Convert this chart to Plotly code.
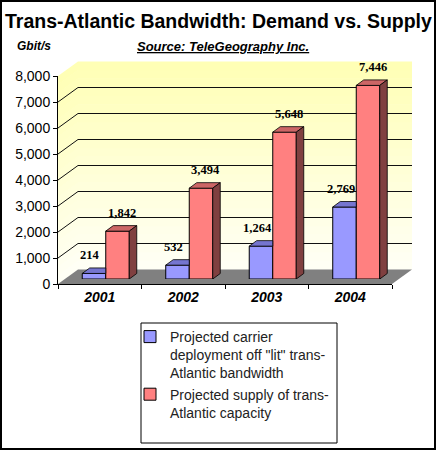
import plotly.graph_objects as go

# values (Gbit/s)
years = ['2001', '2002', '2003', '2004']
demand = [214, 532, 1264, 2769]
supply = [1842, 3494, 5648, 7446]
y_ticks = [0, 1000, 2000, 3000, 4000, 5000, 6000, 7000, 8000]
y_max = 8000

demand_name = 'Projected carrier<br>deployment off "lit" trans-<br>Atlantic bandwidth'
supply_name = 'Projected supply of trans-<br>Atlantic capacity'

W, H = 436, 450
SANS = 'Liberation Sans, Arial, sans-serif'
SERIF = 'Liberation Serif, Times New Roman, serif'

# pseudo 3d box, in pixels
FX0, FX1, FY0, FY1 = 58, 392, 284, 76     # front plane (axes)
WALL_DX, WALL_DY = 20, 14.5               # back wall offset
BAR_DX, BAR_DY = 6, 5                     # bars sit this far into the box
DEPTH_X, DEPTH_Y = 7.5, 5.5               # depth of a bar


def px(x):
    return x / W


def py(y):
    return 1 - y / H


def y_front(v):
    return FY0 - v / y_max * (FY0 - FY1)


def y_back(v):
    return y_front(v) - WALL_DY


slot = (FX1 - FX0) / len(years)
dx = DEPTH_X / slot
dy = DEPTH_Y / ((FY0 - FY1) / y_max)
bar_w = 0.2815
pos = list(range(len(years)))

fig = go.Figure()

# invisible helper so the front category axis knows its categories
fig.add_trace(go.Scatter(x=years, y=demand, mode='markers', marker=dict(opacity=0),
                         showlegend=False, hoverinfo='skip', xaxis='x', yaxis='y'))
fig.add_trace(go.Bar(x=pos, y=demand, name=demand_name, width=bar_w, offset=-bar_w,
                     marker=dict(color='#9999FF', line=dict(color='black', width=1)),
                     xaxis='x2', yaxis='y2'))
fig.add_trace(go.Bar(x=pos, y=supply, name=supply_name, width=bar_w, offset=0,
                     marker=dict(color='#FF8080', line=dict(color='black', width=1)),
                     xaxis='x2', yaxis='y2'))

shapes = []

# walls with a yellow-to-white gradient
n_bands = 24
for i in range(n_bands):
    v0 = i * y_max / n_bands
    v1 = (i + 1) * y_max / n_bands
    t = (v0 + v1) / 2 / y_max
    col = 'rgb(255,255,%d)' % round(246 - t * (246 - 180))
    top = min(v1 + 20, y_max)
    shapes.append(dict(type='rect', xref='paper', yref='paper', layer='below',
                       x0=px(FX0 + WALL_DX), x1=px(FX1 + WALL_DX),
                       y0=py(y_back(v0)), y1=py(y_back(top)),
                       fillcolor=col, line=dict(width=0)))
    shapes.append(dict(type='path', xref='paper', yref='paper', layer='below',
                       path='M%f,%f L%f,%f L%f,%f L%f,%f Z' % (
                           px(FX0), py(y_front(v0)), px(FX0), py(y_front(top)),
                           px(FX0 + WALL_DX), py(y_back(top)), px(FX0 + WALL_DX), py(y_back(v0))),
                       fillcolor=col, line=dict(width=0)))

# gridlines on the back and side wall
for v in y_ticks[1:-1]:
    shapes.append(dict(type='line', xref='paper', yref='paper', layer='below',
                       x0=px(FX0 + WALL_DX), x1=px(FX1 + WALL_DX), y0=py(y_back(v)), y1=py(y_back(v)),
                       line=dict(color='#111111', width=1)))
    shapes.append(dict(type='line', xref='paper', yref='paper', layer='below',
                       x0=px(FX0), x1=px(FX0 + WALL_DX), y0=py(y_front(v)), y1=py(y_back(v)),
                       line=dict(color='#111111', width=1)))

# floor
shapes.append(dict(type='path', xref='paper', yref='paper', layer='below',
                   path='M%f,%f L%f,%f L%f,%f L%f,%f Z' % (
                       px(FX0), py(FY0), px(FX1), py(FY0),
                       px(FX1 + WALL_DX), py(FY0 - WALL_DY), px(FX0 + WALL_DX), py(FY0 - WALL_DY)),
                   fillcolor='#808080', line=dict(width=0)))

# bar tops and sides
edge = dict(color='black', width=0.8)
for x, v in zip(pos, demand):
    xl, xr = x - bar_w, x
    shapes.append(dict(type='path', xref='x2', yref='y2', layer='above', line=edge,
                       fillcolor='#7575D0',
                       path='M%f,%f L%f,%f L%f,%f L%f,%f Z' % (
                           xl, v, xr, v, xr, v + dy, xl + dx, v + dy)))
for x, v in zip(pos, supply):
    xl, xr = x, x + bar_w
    shapes.append(dict(type='path', xref='x2', yref='y2', layer='above', line=edge,
                       fillcolor='#CC6666',
                       path='M%f,%f L%f,%f L%f,%f L%f,%f Z' % (
                           xl, v, xr, v, xr + dx, v + dy, xl + dx, v + dy)))
    shapes.append(dict(type='path', xref='x2', yref='y2', layer='above', line=edge,
                       fillcolor='#804040',
                       path='M%f,%f L%f,%f L%f,%f L%f,%f Z' % (
                           xr, 0, xr, v, xr + dx, v + dy, xr + dx, dy)))

# legend box and outer frame
shapes.append(dict(type='rect', xref='paper', yref='paper', layer='above',
                   x0=px(141), x1=px(337), y0=py(443), y1=py(323),
                   fillcolor='white', line=dict(color='black', width=1)))
shapes.append(dict(type='rect', xref='paper', yref='paper', layer='above',
                   x0=px(1), x1=px(W - 1), y0=py(H - 1), y1=py(1),
                   line=dict(color='black', width=2)))

annotations = [
    dict(text='<b>Trans-Atlantic Bandwidth: Demand vs. Supply</b>', x=px(218), y=py(21),
         font=dict(family=SANS, size=19.5, color='black')),
    dict(text='<b><i>Gbit/s</i></b>', x=px(15), y=py(46), xanchor='left',
         font=dict(family=SANS, size=12, color='black')),
    dict(text='<b><i><u>Source: TeleGeography Inc.</u></i></b>', x=px(223), y=py(46),
         font=dict(family=SANS, size=13, color='black')),
]
for a in annotations:
    a.update(xref='paper', yref='paper', showarrow=False)
    a.setdefault('xanchor', 'center')
    a['yanchor'] = 'middle'

# value labels above the bars
label_font = dict(family=SERIF, size=12.5, color='black', weight='bold')
for x, v in zip(pos, demand):
    annotations.append(dict(text=f'{v:,}', x=x - bar_w / 2, y=v + dy, xref='x2', yref='y2',
                            xshift=-4, yshift=4, yanchor='bottom', showarrow=False, font=label_font))
for x, v in zip(pos, supply):
    annotations.append(dict(text=f'{v:,}', x=x + bar_w / 2 + dx / 2, y=v + dy, xref='x2', yref='y2',
                            xshift=1, yshift=4, yanchor='bottom', showarrow=False, font=label_font))

fig.update_layout(
    width=W, height=H,
    margin=dict(l=0, r=0, t=0, b=0, autoexpand=False),
    paper_bgcolor='white', plot_bgcolor='rgba(0,0,0,0)',
    barmode='overlay', hovermode=False,
    shapes=shapes, annotations=annotations,
    xaxis=dict(type='category', domain=[px(FX0), px(FX1)], range=[-0.5, len(years) - 0.5],
               anchor='y', tickson='boundaries', ticks='outside', ticklen=4, tickcolor='black',
               showline=True, linecolor='black', linewidth=1, showgrid=False, zeroline=False,
               tickfont=dict(family=SANS, size=14, color='black', weight='bold', style='italic')),
    yaxis=dict(domain=[py(FY0), py(FY1)], range=[0, y_max], anchor='x',
               tickvals=y_ticks, tickformat=',', ticks='outside', ticklen=4, tickcolor='black',
               showline=True, linecolor='black', linewidth=1, showgrid=False, zeroline=False,
               tickfont=dict(family=SANS, size=14, color='black')),
    xaxis2=dict(domain=[px(FX0 + BAR_DX), px(FX1 + BAR_DX)], range=[-0.5, len(years) - 0.5],
                anchor='y2', visible=False),
    yaxis2=dict(domain=[py(FY0 - BAR_DY), py(FY1 - BAR_DY)], range=[0, y_max],
                anchor='x2', visible=False),
    legend=dict(x=px(130), y=py(321), xanchor='left', yanchor='top', valign='top',
                bgcolor='rgba(0,0,0,0)', font=dict(family=SANS, size=14, color='#222222')),
)

# the page is exactly the figure size, so drop the browser's default body margin
fig.write_html("out.html", config={'displayModeBar': False},
               post_script="document.body.style.margin='0';")
